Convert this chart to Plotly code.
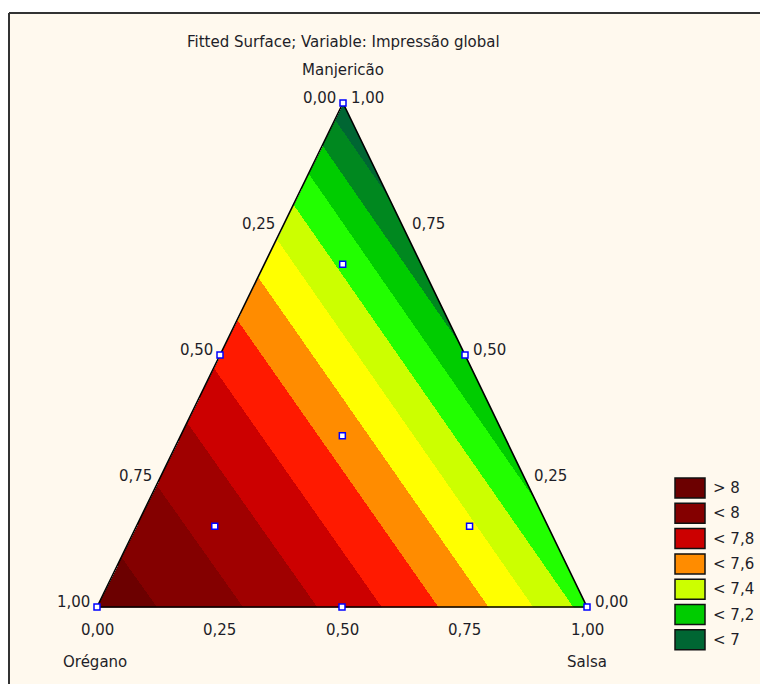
import numpy as np
import plotly.graph_objects as go

# ---------------- data ----------------
components = ["Orégano", "Manjericão", "Salsa"]
# fitted response surface (ratio of linear blends): f = sum(num*x) / sum(den*x), x = (O, M, S)
num_coef = [8.061, 3.6036, 4.330]
den_coef = [1.0, 0.52, 0.5962]

# design points (simplex-centroid with axial points): Orégano, Manjericão, Salsa
design_O = [1, 0, 0, 0.5, 0.5, 0, 0.33, 0.68, 0.16, 0.16]
design_M = [0, 1, 0, 0.5, 0, 0.5, 0.34, 0.16, 0.68, 0.16]
design_S = [0, 0, 1, 0, 0.5, 0.5, 0.33, 0.16, 0.16, 0.68]

levels = [6.9, 7.0, 7.1, 7.2, 7.3, 7.4, 7.5, 7.6, 7.7, 7.8, 7.9, 8.0, 8.1]
band_colors = ["#006633", "#00881F", "#00CC00", "#22FF00", "#CCFF00", "#FFFF00",
               "#FF8C00", "#FF1A00", "#CC0000", "#A00000", "#840000", "#6C0000"]
legend_labels = ["> 8", "< 8", "< 7,8", "< 7,6", "< 7,4", "< 7,2", "< 7"]
legend_colors = ["#6C0000", "#840000", "#CC0000", "#FF8C00", "#CCFF00", "#00CC00", "#006633"]
tick_values = [0.0, 0.25, 0.5, 0.75, 1.0]
tick_text = ["0,00", "0,25", "0,50", "0,75", "1,00"]
title = "Fitted Surface; Variable: Impressão global"

# ---------------- geometry (layout) ----------------
W, H = 760, 684
PO = (97.0, 607.0)   # Orégano vertex (pixels)
PM = (343.0, 103.0)  # Manjericão vertex
PS = (587.0, 607.0)  # Salsa vertex
FONT = "DejaVu Sans"
TXT = "#1e1e28"


def to_xy(o, m, s):
    o, m, s = np.asarray(o, float), np.asarray(m, float), np.asarray(s, float)
    x = PO[0] * o + PM[0] * m + PS[0] * s
    y = PO[1] * o + PM[1] * m + PS[1] * s
    return x, y


def model(o, m, s):
    num = num_coef[0] * o + num_coef[1] * m + num_coef[2] * s
    den = den_coef[0] * o + den_coef[1] * m + den_coef[2] * s
    return num / den


# grid of pixel centres inside the triangle
xs = np.arange(PO[0], PS[0] + 1, 1.0)
ys = np.arange(PM[1], PO[1] + 1, 1.0)
X, Y = np.meshgrid(xs, ys)
Mg = (PO[1] - Y) / (PO[1] - PM[1])
Sg = (X - PO[0] - (PM[0] - PO[0]) * Mg) / (PS[0] - PO[0])
Og = 1 - Mg - Sg
inside = (Og >= -1e-9) & (Sg >= -1e-9)
Z = np.full(X.shape, np.nan)
Z[inside] = model(Og[inside], Mg[inside], Sg[inside])

nb = len(band_colors)
colorscale = []
for i, col in enumerate(band_colors):
    colorscale.append([i / nb, col])
    colorscale.append([(i + 1) / nb, col])

fig = go.Figure()
fig.add_trace(go.Heatmap(x=xs, y=ys, z=Z.astype(np.float32), zmin=levels[0], zmax=levels[-1],
                         colorscale=colorscale, showscale=False, zsmooth=False,
                         hoverinfo="skip"))

# triangle outline
tx, ty = to_xy([1, 0, 0, 1], [0, 1, 0, 0], [0, 0, 1, 0])
fig.add_trace(go.Scatter(x=tx, y=ty, mode="lines", line=dict(color="black", width=1.6),
                         hoverinfo="skip", showlegend=False))

# design points
dx, dy = to_xy(design_O, design_M, design_S)
fig.add_trace(go.Scatter(x=dx, y=dy, mode="markers", cliponaxis=False,
                         marker=dict(symbol="square", size=6, color="white",
                                     line=dict(color="#0000FF", width=1.5)),
                         hoverinfo="skip", showlegend=False))

ann = []
font = dict(family=FONT, size=15, color=TXT)
# Orégano axis (left edge)
for t, lab in zip(tick_values, tick_text):
    x, y = to_xy(t, 1 - t, 0)
    ann.append(dict(x=float(x), y=float(y), text=lab, showarrow=False, xanchor="right",
                    yanchor="middle", xshift=-5, yshift=5, font=font))
# Manjericão axis (right edge)
for t, lab in zip(tick_values, tick_text):
    x, y = to_xy(0, t, 1 - t)
    ann.append(dict(x=float(x), y=float(y), text=lab, showarrow=False, xanchor="left",
                    yanchor="middle", xshift=6, yshift=5, font=font))
# Salsa axis (bottom edge)
for t, lab in zip(tick_values, tick_text):
    x, y = to_xy(1 - t, 0, t)
    ann.append(dict(x=float(x), y=float(y), text=lab, showarrow=False, xanchor="center",
                    yanchor="middle", yshift=-23, font=font))
# component names
mx, my = to_xy(0, 1, 0)
ann.append(dict(x=float(mx), y=70, text=components[1], showarrow=False, font=font))
ox, oy = to_xy(1, 0, 0)
ann.append(dict(x=float(ox) - 2, y=662, text=components[0], showarrow=False, font=font))
sx, sy = to_xy(0, 0, 1)
ann.append(dict(x=float(sx), y=662, text=components[2], showarrow=False, font=font))
# title
ann.append(dict(x=float(mx), y=42, text=title, showarrow=False, font=font))

shapes = [
    dict(type="rect", x0=9, x1=W + 5, y0=13, y1=H + 5, fillcolor="#FFF9EE",
         line=dict(width=0), layer="below"),
    dict(type="line", x0=9, x1=W + 5, y0=13, y1=13, line=dict(color="#333333", width=2)),
    dict(type="line", x0=9, x1=9, y0=13, y1=H + 5, line=dict(color="#333333", width=2)),
]
# legend
for i, (lab, col) in enumerate(zip(legend_labels, legend_colors)):
    yc = 488 + i * 25.3
    shapes.append(dict(type="rect", x0=675, x1=705, y0=yc - 10, y1=yc + 10, fillcolor=col,
                       line=dict(color="#111111", width=1.5)))
    ann.append(dict(x=711, y=yc, text=lab, showarrow=False, xanchor="left", yanchor="middle",
                    font=font))

fig.update_layout(
    width=W, height=H, autosize=False,
    margin=dict(l=0, r=0, t=0, b=0),
    paper_bgcolor="white", plot_bgcolor="rgba(0,0,0,0)",
    xaxis=dict(range=[0, W], visible=False, fixedrange=True),
    yaxis=dict(range=[H, 0], visible=False, fixedrange=True),
    showlegend=False, annotations=ann, shapes=shapes,
)
fig.write_html("out.html", config={"displayModeBar": False},
               post_script="document.body.style.margin='0';document.body.style.overflow='hidden';")
